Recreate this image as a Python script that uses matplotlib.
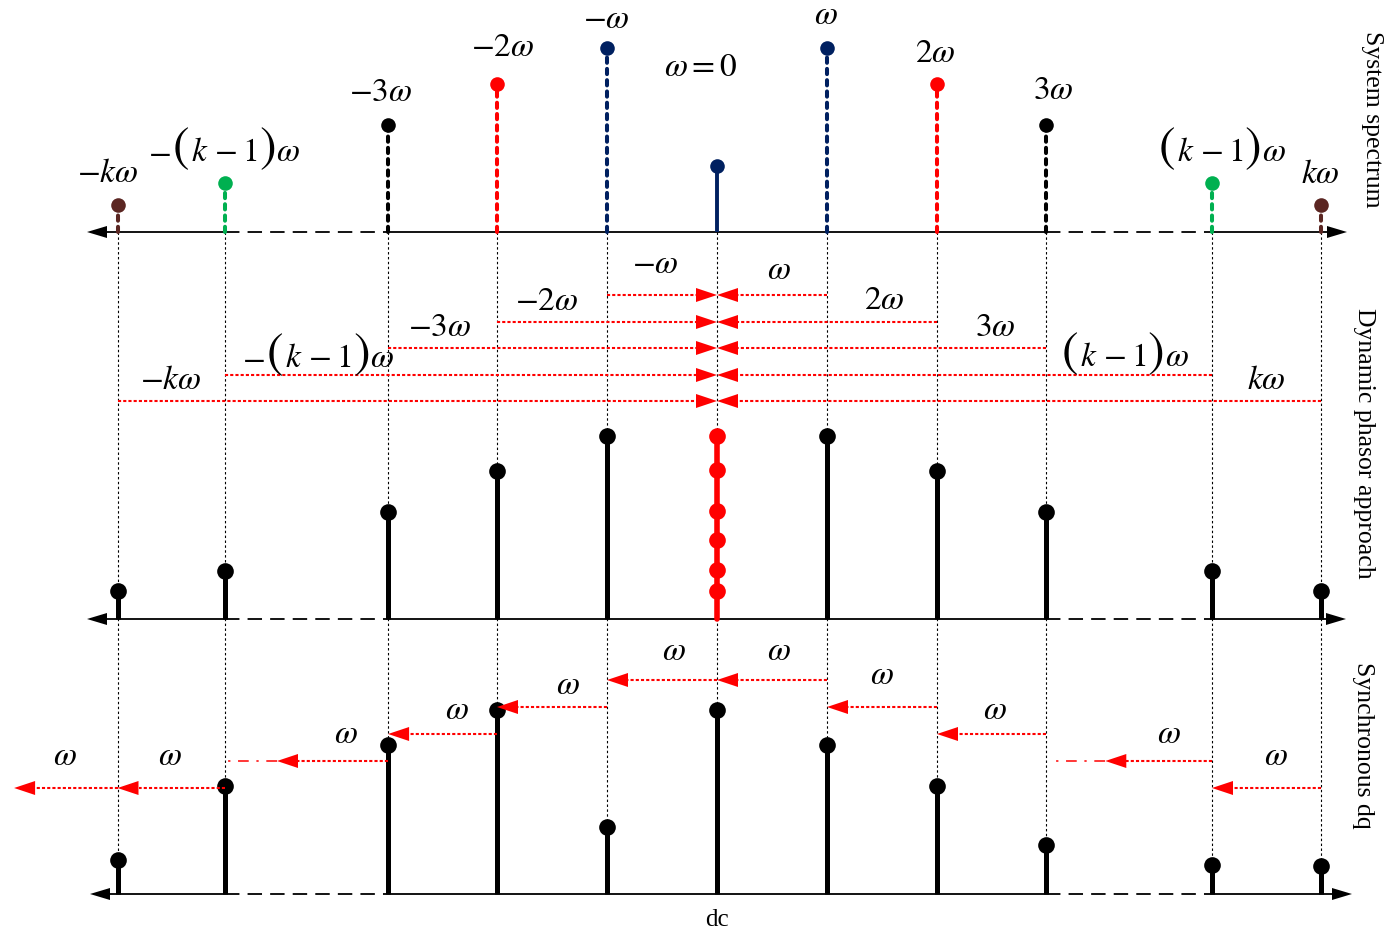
import matplotlib
matplotlib.use("Agg")
import matplotlib.pyplot as plt
from matplotlib.offsetbox import TextArea, HPacker, AnnotationBbox

plt.rcParams['mathtext.fontset'] = 'stix'
plt.rcParams['font.family'] = ['Liberation Serif', 'DejaVu Serif']

# ---------------- data ----------------
# harmonic positions (a gap is left between 3 and k-1)
harmonics = [-5.45, -4.47, -2.99, -2, -1, 0, 1, 2, 2.99, 4.5, 5.49]
# label specs: plain mathtext string, or ('paren', negative) for -(k-1)w / (k-1)w
spec_labels = [r'$-k\omega$', ('paren', True), r'$-3\omega$', r'$-2\omega$',
               r'$-\omega$', r'$\omega=0$', r'$\omega$', r'$2\omega$', r'$3\omega$',
               ('paren', False), r'$k\omega$']
spec_heights = [27, 49, 107, 148, 184, 66, 184, 148, 107, 49, 27]
spec_colors = ['#5b2622', '#00b050', '#000000', '#ff0000', '#002060', '#002060',
               '#002060', '#ff0000', '#000000', '#00b050', '#5b2622']
phasor_heights = [28, 48, 107, 148, 183, None, 183, 148, 107, 48, 28]
phasor_dc_dots = [183, 149, 108, 79, 49, 28]
phasor_row_labels_left = [r'$-\omega$', r'$-2\omega$', r'$-3\omega$', ('paren', True), r'$-k\omega$']
phasor_row_labels_right = [r'$\omega$', r'$2\omega$', r'$3\omega$', ('paren', False), r'$k\omega$']
phasor_row_sources = [(-1, 1), (-2, 2), (-2.99, 2.99), (-4.47, 4.5), (-5.45, 5.49)]
dq_heights = [34, 108, 149, 184, 67, 184, 149, 108, 49, 29, 28]
# synchronous dq shift arrows: (start, tip, dash-dot continuation end or None)
dq_arrows = [
    (1, 0, None), (0, -1, None),
    (-1, -2, None), (2, 1, None),
    (-2, -2.99, None), (2.99, 2, None),
    (-2.99, -4.0, -4.45), (4.5, 3.53, 3.03),
    (-4.47, -5.45, None), (-5.45, -6.39, None), (5.49, 4.5, None),
]
panel_titles = ['System spectrum', 'Dynamic phasor approach', 'Synchronous dq']

# ---------------- layout ----------------
W, H = 1394, 937
X0, UNIT = 717, 110.0


def u(px):
    return (px - X0) / UNIT


BASE1, BASE2, BASE3 = 233, 620, 895
spec_label_xy = [(108, 174), (224, 147), (381, 93), (503, 48), (606, 20), (701, 68),
                 (826, 16), (935, 54), (1053, 91), (1222, 147), (1320, 175)]
phasor_rows_y = [296, 323, 349, 376, 402]
phasor_left_xy = [(655, 265), (547, 302), (440, 328), (318, 353), (171, 381)]
phasor_right_xy = [(779, 271), (884, 301), (995, 328), (1125, 352), (1266, 381)]
dq_rows_y = [681, 681, 708, 708, 735, 735, 762, 762, 789, 789, 789]
dq_label_xy = [(674, 652), (779, 652), (568, 686), (882, 676), (457, 711), (995, 711),
               (346, 735), (1169, 735), (65, 757), (170, 757), (1276, 757)]
title_xy = [(1372, 119), (1364, 443), (1363, 745)]
FS = 24

fig = plt.figure(figsize=(W / 100, H / 100), dpi=100)
ax = fig.add_axes([0, 0, 1, 1])
ax.set_xlim(u(0), u(W))
ax.set_ylim(H, 0)
ax.axis('off')


def label(x, y, spec):
    if isinstance(spec, str):
        ax.text(x, y, spec, fontsize=FS, ha='center', va='center', zorder=8)
        return
    neg = spec[1]
    parts = []
    if neg:
        parts.append(TextArea(r'$-$', textprops=dict(fontsize=FS)))
    parts += [TextArea(r'$($', textprops=dict(fontsize=FS * 1.5)),
              TextArea(r'$k\,-1$', textprops=dict(fontsize=FS)),
              TextArea(r'$)$', textprops=dict(fontsize=FS * 1.5)),
              TextArea(r'$\omega$', textprops=dict(fontsize=FS))]
    box = HPacker(children=parts, align='baseline', pad=0, sep=1)
    ab = AnnotationBbox(box, (x, y + 2), frameon=False, box_alignment=(0.5, 0.5),
                        pad=0, zorder=8)
    ax.add_artist(ab)


def tri(x_tip, y, direction, color, hl=20, hw=6, z=5):
    # direction: +1 points right, -1 points left
    xb = x_tip - direction * hl / UNIT
    ax.fill([x_tip, xb, xb], [y, y - hw, y + hw], color=color, lw=0, zorder=z)


def axis_line(y, left_tip, right_tip):
    lb = u(left_tip + 20)
    rb = u(right_tip - 20)
    kw = dict(color='black', lw=1.3, zorder=3)
    for a, b in [(lb, harmonics[1]), (harmonics[2], harmonics[8]), (harmonics[9], rb)]:
        ax.plot([a, b], [y, y], solid_capstyle='butt', **kw)
    for a, b in [(harmonics[1], harmonics[2]), (harmonics[8], harmonics[9])]:
        ax.plot([a, b], [y, y], linestyle=(0, (8, 4.5)), **kw)
    tri(u(left_tip), y, -1, 'black')
    tri(u(right_tip), y, +1, 'black')


def red_arrow(xs, xt, y, ext=None):
    d = 1 if xt > xs else -1
    xb = xt - d * 21 / UNIT
    ax.plot([xs, xb], [y, y], color='red', lw=1.5, linestyle=(0, (1.5, 1.0)), zorder=6)
    tri(xt, y, d, 'red', hl=21, hw=7, z=7)
    if ext is not None:
        ax.plot([xt, ext], [y, y], color='red', lw=1.1, linestyle=(0, (7, 5, 1.5, 5)), zorder=6)


# vertical dotted guide lines
for x, h in zip(harmonics, dq_heights):
    ax.plot([x, x], [BASE1, BASE3 - h], color='black', lw=0.8,
            linestyle=(0, (2.2, 2.2)), zorder=1)

# axes
axis_line(BASE1, 87, 1347)
axis_line(BASE2, 87, 1346)
axis_line(BASE3, 90, 1352)

# ---- panel 1: system spectrum ----
for x, h, c, lab, (lx, ly) in zip(harmonics, spec_heights, spec_colors, spec_labels, spec_label_xy):
    top = BASE1 - h
    if x == 0:
        ax.plot([x, x], [BASE1, top], color=c, lw=2.8, solid_capstyle='butt', zorder=4)
    else:
        ax.plot([x, x], [BASE1, top], color=c, lw=2.9, linestyle=(0, (1.3, 1.5)),
                dash_capstyle='round', zorder=4)
    ax.plot([x], [top], 'o', color=c, ms=10.5, mec='none', zorder=5)
    label(u(lx), ly, lab)

# ---- panel 2: dynamic phasor ----
for x, h in zip(harmonics, phasor_heights):
    if h is None:
        continue
    ax.plot([x, x], [BASE2, BASE2 - h], color='black', lw=3.6, solid_capstyle='butt', zorder=4)
    ax.plot([x], [BASE2 - h], 'o', color='black', ms=12, mec='none', zorder=5)
ax.plot([0, 0], [BASE2, BASE2 - max(phasor_dc_dots)], color='red', lw=4,
        solid_capstyle='round', zorder=4)
ax.plot([0] * len(phasor_dc_dots), [BASE2 - h for h in phasor_dc_dots], 'o',
        color='red', ms=12, mec='none', zorder=5)
for (sl, sr), ry, ll, rl, lxy, rxy in zip(phasor_row_sources, phasor_rows_y,
                                            phasor_row_labels_left, phasor_row_labels_right,
                                            phasor_left_xy, phasor_right_xy):
    red_arrow(sl, 0, ry)
    red_arrow(sr, 0, ry)
    label(u(lxy[0]), lxy[1], ll)
    label(u(rxy[0]), rxy[1], rl)

# ---- panel 3: synchronous dq ----
for x, h in zip(harmonics, dq_heights):
    ax.plot([x, x], [BASE3, BASE3 - h], color='black', lw=3.6, solid_capstyle='butt', zorder=4)
    ax.plot([x], [BASE3 - h], 'o', color='black', ms=12, mec='none', zorder=5)
for (xs, xt, ext), ry in zip(dq_arrows, dq_rows_y):
    red_arrow(xs, xt, ry, ext)
for (lx, ly) in dq_label_xy:
    label(u(lx), ly, r'$\omega$')

ax.text(0, 920, 'dc', fontsize=18, ha='center', va='center')

for t, (tx, ty) in zip(panel_titles, title_xy):
    ax.text(u(tx), ty, t, fontsize=18.5, rotation=-90, ha='center', va='center')

fig.savefig('out.png', dpi=100)
